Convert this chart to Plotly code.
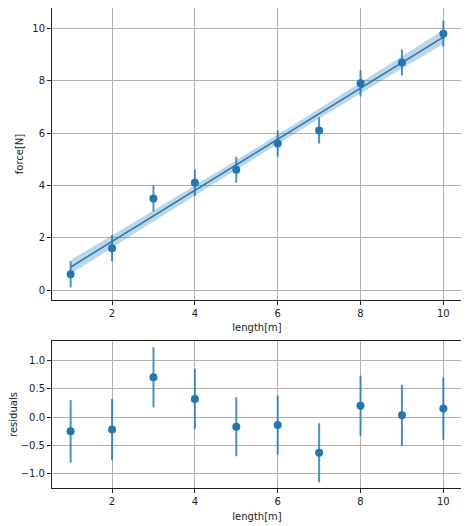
import plotly.graph_objects as go
from plotly.subplots import make_subplots

length = [1, 2, 3, 4, 5, 6, 7, 8, 9, 10]
force = [0.6, 1.6, 3.5, 4.1, 4.6, 5.6, 6.1, 7.9, 8.7, 9.8]
force_err = [0.5, 0.5, 0.5, 0.5, 0.5, 0.5, 0.5, 0.5, 0.5, 0.5]

fit_x = [1, 3, 5.5, 8, 10]
fit_y = [0.88, 2.83, 5.27, 7.72, 9.67]
band_half = [0.27, 0.21, 0.18, 0.21, 0.27]

residuals = [-0.25, -0.22, 0.70, 0.32, -0.17, -0.14, -0.63, 0.20, 0.03, 0.15]
resid_err = [0.55, 0.54, 0.53, 0.53, 0.52, 0.52, 0.52, 0.53, 0.54, 0.55]

blue = "#1f77b4"
err_col = "rgba(31,119,180,0.8)"

fig = make_subplots(rows=2, cols=1)

lower = [y - h for y, h in zip(fit_y, band_half)]
upper = [y + h for y, h in zip(fit_y, band_half)]
fig.add_trace(go.Scatter(x=fit_x, y=lower, mode="lines", line=dict(width=0, shape="spline"),
                         showlegend=False, hoverinfo="skip"), row=1, col=1)
fig.add_trace(go.Scatter(x=fit_x, y=upper, mode="lines", line=dict(width=0, shape="spline"),
                         fill="tonexty", fillcolor="rgba(31,119,180,0.3)",
                         showlegend=False, hoverinfo="skip"), row=1, col=1)
fig.add_trace(go.Scatter(x=fit_x, y=fit_y, mode="lines", line=dict(color=blue, width=1.5),
                         showlegend=False), row=1, col=1)
fig.add_trace(go.Scatter(x=length, y=force, mode="markers",
                         marker=dict(color=blue, size=8),
                         error_y=dict(type="data", array=force_err, color=err_col, thickness=2, width=0),
                         showlegend=False), row=1, col=1)
fig.add_trace(go.Scatter(x=length, y=residuals, mode="markers",
                         marker=dict(color=blue, size=8),
                         error_y=dict(type="data", array=resid_err, color=err_col, thickness=2, width=0),
                         showlegend=False), row=2, col=1)

axis_common = dict(showgrid=True, gridcolor="#b0b0b0", gridwidth=1, showline=True, linecolor="#222",
                   linewidth=1, mirror=True, ticks="outside", ticklen=4, tickcolor="#222",
                   zeroline=False, tickfont=dict(size=10, color="#222"), automargin=False)

fig.update_xaxes(**axis_common, range=[0.55, 10.45], tickvals=[2, 4, 6, 8, 10])
fig.update_xaxes(title=dict(text="length[m]", font=dict(size=10, color="#222"), standoff=6), row=1, col=1)
fig.update_xaxes(title=dict(text="length[m]", font=dict(size=10, color="#222"), standoff=6), row=2, col=1)
fig.update_yaxes(**axis_common)
fig.update_yaxes(range=[-0.38, 10.78], tickvals=[0, 2, 4, 6, 8, 10],
                 title=dict(text="force[N]", font=dict(size=10, color="#222"), standoff=6), row=1, col=1)
fig.update_yaxes(range=[-1.25, 1.34], tickvals=[-1.0, -0.5, 0.0, 0.5, 1.0], tickformat=".1f",
                 title=dict(text="residuals", font=dict(size=10, color="#222"), standoff=6), row=2, col=1)

fig.update_layout(
    width=461, height=518,
    margin=dict(l=44, r=7, t=0, b=38),
    paper_bgcolor="white", plot_bgcolor="white",
    font=dict(family="DejaVu Sans", size=10, color="#222"),
    xaxis=dict(domain=[0, 1]), yaxis=dict(domain=[0.3917, 1.0]),
    xaxis2=dict(domain=[0, 1]), yaxis2=dict(domain=[0.0, 0.30625]),
    showlegend=False,
)

fig.write_html("out.html")
